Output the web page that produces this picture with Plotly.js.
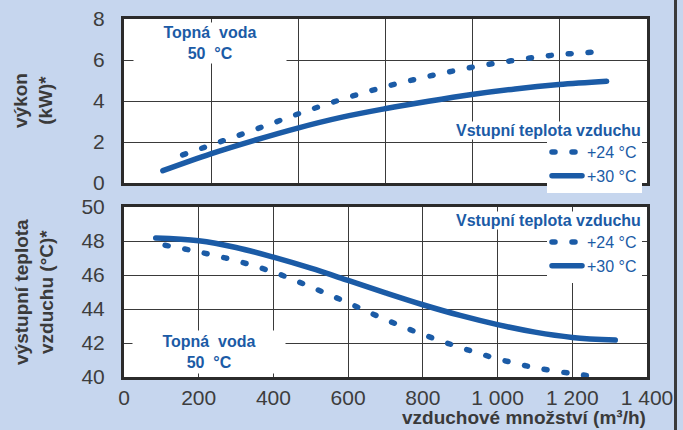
<!DOCTYPE html>
<html>
<head>
<meta charset="utf-8">
<script src="https://cdn.plot.ly/plotly-3.0.1.min.js"></script>
<style>
html, body { margin: 0; padding: 0; background: #c6d6ee; }
#chart { width: 683px; height: 430px; }
path.js-line { stroke-linecap: round; stroke-linejoin: round; }
</style>
</head>
<body>
<div id="chart"></div>
<script>
// ---- data ----
const seriesNames = ['+24 °C', '+30 °C'];

// top panel: heat output (kW) vs air flow (m3/h)
const powerAirflow24 = [157, 262, 372, 477, 588, 698, 809, 919, 1036, 1146, 1263];
const power24 = [1.37, 2.04, 2.75, 3.44, 4.11, 4.69, 5.18, 5.60, 5.96, 6.23, 6.39];
const powerAirflow30 = [104, 232, 349, 465, 581, 698, 815, 931, 1047, 1164, 1292];
const power30 = [0.60, 1.42, 2.08, 2.68, 3.20, 3.62, 3.99, 4.32, 4.59, 4.80, 4.96];

// bottom panel: outlet air temperature (°C) vs air flow (m3/h)
const tempAirflow24 = [110, 200, 300, 400, 500, 600, 700, 800, 900, 1000, 1100, 1200, 1257];
const temp24 = [47.75, 47.36, 46.84, 46.17, 45.30, 44.36, 43.38, 42.50, 41.74, 41.07, 40.55, 40.20, 40.04];
const tempAirflow30 = [85, 200, 300, 400, 500, 600, 700, 800, 900, 1000, 1100, 1200, 1315];
const temp30 = [48.18, 48.02, 47.62, 47.05, 46.40, 45.68, 44.95, 44.25, 43.62, 43.08, 42.64, 42.33, 42.17];

const xTickVals = [0, 200, 400, 600, 800, 1000, 1200, 1400];
const xTickText = ['0', '200', '400', '600', '800', '1 000', '1 200', '1 400'];
const powerTicks = [0, 2, 4, 6, 8];
const tempTicks = [40, 42, 44, 46, 48, 50];

// ---- styling ----
const W = 683, H = 430;
const BLUE = '#1b5ba6';
const GREY = '#3a3a3a';
const FONT = 'Liberation Sans, Arial, sans-serif';
const px = v => v / W;
const py = v => 1 - v / H;

const dotted = { color: BLUE, width: 5.5, dash: '3px,17px', shape: 'spline', smoothing: 1 };
const solid = { color: BLUE, width: 5.5, shape: 'spline', smoothing: 1 };

const traces = [
  { x: powerAirflow24, y: power24, name: seriesNames[0], mode: 'lines', line: dotted, xaxis: 'x', yaxis: 'y', legend: 'legend' },
  { x: powerAirflow30, y: power30, name: seriesNames[1], mode: 'lines', line: solid, xaxis: 'x', yaxis: 'y', legend: 'legend' },
  { x: tempAirflow24, y: temp24, name: seriesNames[0], mode: 'lines', line: dotted, xaxis: 'x2', yaxis: 'y2', legend: 'legend2' },
  { x: tempAirflow30, y: temp30, name: seriesNames[1], mode: 'lines', line: solid, xaxis: 'x2', yaxis: 'y2', legend: 'legend2' }
];

const axisCommon = {
  showgrid: true, gridcolor: '#3a3a3a', gridwidth: 1,
  showline: true, mirror: true, linecolor: '#2b2b2b', linewidth: 3,
  zeroline: false, ticks: '', fixedrange: true,
  tickfont: { family: FONT, size: 21, color: '#3d3d3d' }
};

const xDomain = [px(124), px(647)];

const legendCommon = {
  xanchor: 'right', yanchor: 'top', bgcolor: '#ffffff', borderwidth: 0,
  font: { family: FONT, size: 16, color: BLUE },
  itemclick: false, itemdoubleclick: false, tracegroupgap: 0
};

const textBox = (text, x, y, w, h) => ({
  text: text, xref: 'paper', yref: 'paper', x: px(x), y: py(y),
  xanchor: 'center', yanchor: 'middle', showarrow: false,
  width: w, height: h, bgcolor: '#ffffff',
  font: { family: FONT, size: 16, color: BLUE, weight: 700 }
});

const legendTitle = (y) => ({
  text: 'Vstupní teplota vzduchu', xref: 'paper', yref: 'paper', x: px(642), y: py(y),
  xanchor: 'right', yanchor: 'middle', showarrow: false, bgcolor: '#ffffff', borderpad: 0,
  font: { family: FONT, size: 16, color: BLUE, weight: 700 }
});

const axisTitle = (text, x, y, angle, xanchor, yanchor) => ({
  text: text, xref: 'paper', yref: 'paper', x: px(x), y: py(y),
  xanchor: xanchor, yanchor: yanchor, textangle: angle, showarrow: false, borderpad: 0,
  font: { family: FONT, size: 19, color: GREY, weight: 700 }
});

const layout = {
  width: W, height: H,
  paper_bgcolor: '#c6d6ee', plot_bgcolor: '#ffffff',
  margin: { l: 0, r: 0, t: 0, b: 0 },
  showlegend: true,
  xaxis: Object.assign({}, axisCommon, {
    domain: xDomain, anchor: 'y', range: [0, 1400],
    tick0: 0, dtick: 1400 / 6, showticklabels: false
  }),
  yaxis: Object.assign({}, axisCommon, {
    domain: [py(183), py(19)], anchor: 'x', range: [0, 8],
    tickvals: powerTicks, ticklabelstandoff: 12
  }),
  xaxis2: Object.assign({}, axisCommon, {
    domain: xDomain, anchor: 'y2', range: [0, 1400],
    tickvals: xTickVals, ticktext: xTickText, ticklabelstandoff: 0
  }),
  yaxis2: Object.assign({}, axisCommon, {
    domain: [py(377), py(207)], anchor: 'x2', range: [40, 50],
    tickvals: tempTicks, ticklabelstandoff: 12
  }),
  legend: Object.assign({}, legendCommon, { x: px(642), y: py(135) }),
  legend2: Object.assign({}, legendCommon, { x: px(642), y: py(225) }),
  annotations: [
    textBox('Topná\u00a0 voda<br>50\u00a0 °C', 210, 43, 150, 38),
    textBox('Topná\u00a0 voda<br>50\u00a0 °C', 209, 352, 150, 40),
    legendTitle(131),
    legendTitle(221),
    axisTitle('výkon<br>(kW)*', 33, 101, -90, 'center', 'middle'),
    axisTitle('výstupní teplota<br>vzduchu (°C)*', 34, 292, -90, 'center', 'middle'),
    axisTitle('vzduchové množství (m³/h)', 647, 429, 0, 'right', 'bottom')
  ],
  shapes: [
    { type: 'line', xref: 'paper', yref: 'paper', x0: px(675.5), x1: px(675.5), y0: 0, y1: 1,
      line: { color: '#3a3a3a', width: 3 } }
  ]
};

Plotly.newPlot('chart', traces, layout, { displayModeBar: false, staticPlot: true });
</script>
</body>
</html>
